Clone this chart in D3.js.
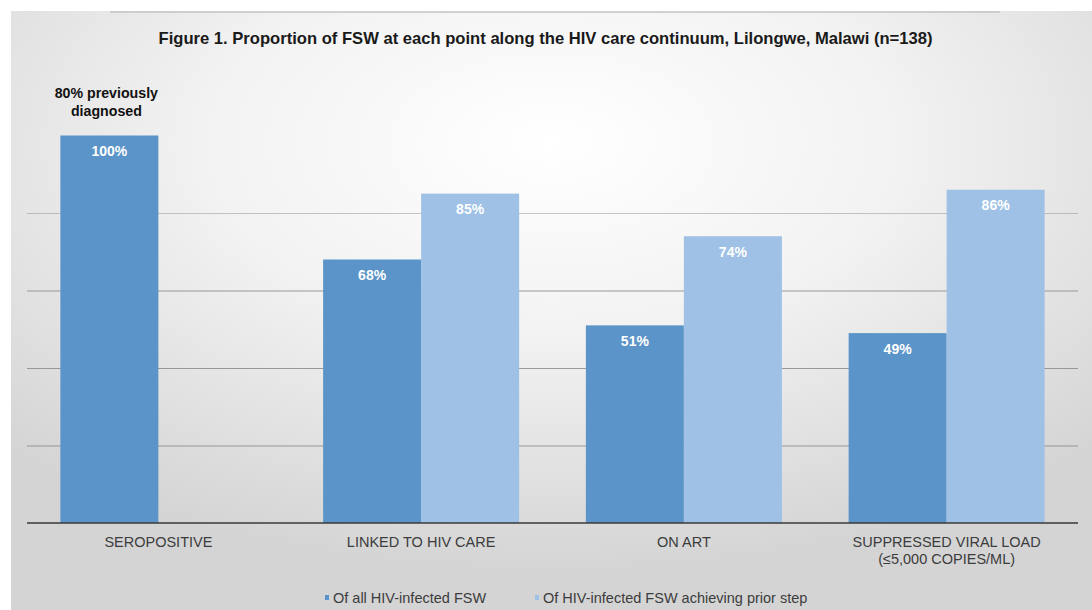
<!DOCTYPE html>
<html>
<head>
<meta charset="utf-8">
<script src="https://cdn.jsdelivr.net/npm/d3@7"></script>
<style>
  html, body { margin: 0; padding: 0; background: #fff; }
  svg { display: block; font-family: "Liberation Sans", Arial, sans-serif; }
</style>
</head>
<body>
<svg id="chart" width="1092" height="610"></svg>
<script>
// Care continuum steps and the two percentage series
const categories = ["SEROPOSITIVE", "LINKED TO HIV CARE", "ON ART", "SUPPRESSED VIRAL LOAD\n(≤5,000 COPIES/ML)"];
const seriesNames = ["Of all HIV-infected FSW", "Of HIV-infected FSW achieving prior step"];
const ofAll = [100, 68, 51, 49];
const ofPrior = [null, 85, 74, 86];
const gridTicks = [0, 20, 40, 60, 80, 100];
const colors = ["#5b94c8", "#9ec1e5"];

const svg = d3.select("#chart");
const W = 1092, H = 610;
const margin = { left: 27, right: 14, top: 135.5, bottom: 87 };
const plotBottom = H - margin.bottom;

// Backdrop: grey frame with a soft white glow toward the top centre
const defs = svg.append("defs");
const grad = defs.append("radialGradient").attr("id", "glow")
  .attr("cx", "50%").attr("cy", "22%").attr("r", "72%");
grad.append("stop").attr("offset", "0%").attr("stop-color", "#ffffff");
grad.append("stop").attr("offset", "45%").attr("stop-color", "#f2f2f2");
grad.append("stop").attr("offset", "100%").attr("stop-color", "#d4d4d4");
svg.append("rect").attr("x", 11).attr("y", 11).attr("width", W - 11).attr("height", H - 11)
  .attr("fill", "url(#glow)");
svg.append("line").attr("x1", 110).attr("x2", 1000).attr("y1", 12).attr("y2", 12)
  .attr("stroke", "#c4c4c4").attr("stroke-width", 1.5);

const x0 = d3.scaleBand().domain(categories).range([margin.left, W - margin.right]).padding(0);
const groupW = x0.bandwidth() * 0.746;
const x1 = d3.scaleBand().domain([0, 1]).range([0, groupW]).padding(0);
const y = d3.scaleLinear().domain([0, 100]).range([plotBottom, margin.top]);

// Horizontal gridlines
const yAxis = d3.axisLeft(y).tickValues(gridTicks.filter(t => t > 0 && t < 100))
  .tickSize(-(W - margin.left - margin.right)).tickFormat("");
const gGrid = svg.append("g").attr("transform", `translate(${margin.left},0)`).call(yAxis);
gGrid.select(".domain").remove();
gGrid.selectAll(".tick line").attr("stroke", "#8f8f8f").attr("stroke-width", 1)
  .attr("stroke-opacity", d => d === 80 ? 0.5 : 0.9);

// Bars
const rows = categories.map((c, i) => ({ cat: c, vals: [ofAll[i], ofPrior[i]] }));
const groups = svg.append("g").selectAll("g").data(rows).join("g")
  .attr("transform", d => `translate(${x0(d.cat) + (x0.bandwidth() - groupW) / 2},0)`);

const bars = groups.selectAll("g.bar")
  .data(d => d.vals.map((v, k) => ({ v, k })).filter(e => e.v !== null))
  .join("g").attr("class", "bar");

bars.append("rect")
  .attr("x", d => x1(d.k))
  .attr("y", d => y(d.v))
  .attr("width", x1.bandwidth())
  .attr("height", d => plotBottom - y(d.v))
  .attr("fill", d => colors[d.k]);

bars.append("text")
  .attr("x", d => x1(d.k) + x1.bandwidth() / 2)
  .attr("y", d => y(d.v) + 20.5)
  .attr("text-anchor", "middle")
  .attr("fill", "#ffffff")
  .attr("font-size", 14)
  .attr("font-weight", "bold")
  .text(d => d.v + "%");

// Baseline
svg.append("line").attr("x1", margin.left).attr("x2", W - margin.right)
  .attr("y1", plotBottom).attr("y2", plotBottom)
  .attr("stroke", "#3a3a3a").attr("stroke-width", 1.5);

// Category labels (multi-line where needed)
const xAxis = d3.axisBottom(x0).tickSize(0).tickPadding(0);
const gx = svg.append("g").attr("transform", `translate(0,${plotBottom})`).call(xAxis);
gx.select(".domain").remove();
gx.selectAll(".tick text").each(function (d) {
  const t = d3.select(this).text(null).attr("y", 0).attr("dy", null)
    .attr("fill", "#3c3c3c").attr("font-size", 14.5)
    .attr("font-family", "'Liberation Sans', Arial, sans-serif");
  d.split("\n").forEach((line, i) => {
    t.append("tspan").attr("x", 0).attr("y", 24 + i * 16.5).text(line);
  });
});

// Note above the first bar
const noteX = x0(categories[0]) + (x0.bandwidth() - groupW) / 2 + x1.bandwidth() / 2 - 3;
const note = svg.append("text").attr("text-anchor", "middle")
  .attr("font-size", 14.2).attr("font-weight", "bold").attr("fill", "#111");
note.append("tspan").attr("x", noteX).attr("y", 98).text("80% previously");
note.append("tspan").attr("x", noteX).attr("y", 116).text("diagnosed");

// Title
svg.append("text").attr("x", 545.5).attr("y", 44).attr("text-anchor", "middle")
  .attr("font-size", 16.6).attr("font-weight", "bold").attr("fill", "#1a1a1a")
  .text("Figure 1. Proportion of FSW at each point along the HIV care continuum, Lilongwe, Malawi (n=138)");

// Legend
const legendX = [325, 535];
const lg = svg.append("g").selectAll("g").data(seriesNames).join("g")
  .attr("transform", (d, i) => `translate(${legendX[i]},603)`);
lg.append("rect").attr("x", 0).attr("y", -8).attr("width", 4).attr("height", 5)
  .attr("fill", (d, i) => colors[i]);
lg.append("text").attr("x", 8).attr("y", 0).attr("font-size", 14.5)
  .attr("fill", "#3c3c3c").text(d => d);
</script>
</body>
</html>
